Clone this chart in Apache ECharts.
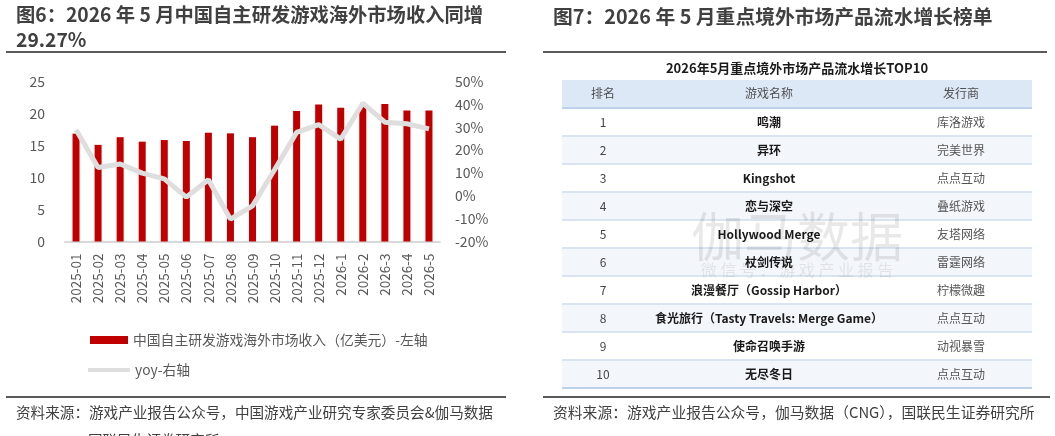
<!DOCTYPE html>
<html>
<head>
<meta charset="utf-8">
<script src="https://cdn.jsdelivr.net/npm/echarts@6/dist/echarts.min.js"></script>
<style>
  html, body { margin: 0; padding: 0; background: #fff; }
  #chart { width: 1055px; height: 436px; }
</style>
</head>
<body>
<div id="chart"></div>
<script>
const months = ['2025-01', '2025-02', '2025-03', '2025-04', '2025-05', '2025-06', '2025-07', '2025-08', '2025-09',
  '2025-10', '2025-11', '2025-12', '2026-1', '2026-2', '2026-3', '2026-4', '2026-5']
const revenue = [16.85, 15.1, 16.3, 15.6, 15.85, 15.7, 17.0, 16.9, 16.3, 18.1, 20.4, 21.4, 20.9, 21.1, 21.5, 20.45, 20.45]
const yoy = [28.9, 12.4, 13.9, 9.9, 7.4, -0.6, 7.0, -10.2, -4.4, 11.4, 27.7, 31.1, 24.8, 40.5, 32.2, 31.5, 29.27]

const ranks = ['1', '2', '3', '4', '5', '6', '7', '8', '9', '10']
const gameNames = ['鸣潮', '异环', 'Kingshot', '恋与深空', 'Hollywood Merge', '杖剑传说', '浪漫餐厅（Gossip Harbor）',
  '食光旅行（Tasty Travels: Merge Game）', '使命召唤手游', '无尽冬日']
const publishers = ['库洛游戏', '完美世界', '点点互动', '叠纸游戏', '友塔网络', '雷霆网络', '柠檬微趣', '点点互动', '动视暴雪', '点点互动']
const tableHeader = ['排名', '游戏名称', '发行商']

const FONT = '"Noto Sans CJK SC", "Noto Sans", sans-serif'
const barName = '中国自主研发游戏海外市场收入（亿美元）-左轴'
const lineName = 'yoy-右轴'

// table geometry
const tLeft = 562
const tRight = 1032
const headTop = 80
const headH = 27
const rowH = 28
const colX = [603, 769, 961]

function buildTable() {
  const els = []
  els.push({ type: 'text', style: { text: '2026年5月重点境外市场产品流水增长TOP10',
    x: 797, y: 68, align: 'center', verticalAlign: 'middle', font: 'bold 13px ' + FONT, fill: '#1a1a1a' } })
  els.push({ type: 'rect', shape: { x: tLeft, y: headTop, width: tRight - tLeft, height: headH }, style: { fill: '#dce8f6' } })
  tableHeader.forEach((h, i) => {
    els.push({ type: 'text', style: { text: h, x: colX[i], y: headTop + headH / 2, align: 'center', verticalAlign: 'middle',
      font: '12px ' + FONT, fill: '#505050' } })
  })
  const top0 = headTop + headH + 1
  ranks.forEach((r, i) => {
    const y = top0 + i * rowH
    if (i % 2 === 1) {
      els.push({ type: 'rect', shape: { x: tLeft, y: y, width: tRight - tLeft, height: rowH }, style: { fill: '#f3f6fb' } })
    }
    const cy = y + rowH / 2
    els.push({ type: 'text', style: { text: r, x: colX[0], y: cy, align: 'center', verticalAlign: 'middle',
      font: '12px ' + FONT, fill: '#444' } })
    els.push({ type: 'text', style: { text: gameNames[i], x: colX[1], y: cy, align: 'center', verticalAlign: 'middle',
      font: 'bold 12px ' + FONT, fill: '#1a1a1a' } })
    els.push({ type: 'text', style: { text: publishers[i], x: colX[2], y: cy, align: 'center', verticalAlign: 'middle',
      font: '12px ' + FONT, fill: '#555' } })
  })
  for (let i = 0; i <= ranks.length; i++) {
    const y = top0 + i * rowH
    els.push({ type: 'line', shape: { x1: tLeft, y1: y, x2: tRight, y2: y },
      style: { stroke: i === 0 || i === ranks.length ? '#a9c3e4' : '#cfdcee', lineWidth: 1.5 } })
  }
  // watermark
  els.push({ type: 'text', z: 10, style: { text: '伽马数据', x: 797, y: 237, align: 'center', verticalAlign: 'middle',
    font: '53px ' + FONT, fill: 'rgba(0,0,0,0.09)' } })
  els.push({ type: 'text', z: 10, style: { text: '微 信 号 ： 游 戏 产 业 报 告', x: 797, y: 270, align: 'center', verticalAlign: 'middle',
    font: '16px ' + FONT, fill: 'rgba(0,0,0,0.08)' } })
  return els
}

function hLine(x1, x2, y) {
  return { type: 'line', shape: { x1: x1, y1: y, x2: x2, y2: y }, style: { stroke: '#595959', lineWidth: 2 } }
}

function txt(text, x, y, font, fill) {
  return { type: 'text', style: { text: text, x: x, y: y, verticalAlign: 'middle', font: font, fill: fill } }
}

const chart = echarts.init(document.getElementById('chart'))

chart.setOption({
  animation: false,
  textStyle: { fontFamily: FONT },
  grid: { left: 65, right: 615, top: 81.5, bottom: 194.5 },
  legend: [
    {
      data: [{ name: barName, icon: 'rect' }],
      left: 85, top: 328, itemWidth: 38, itemHeight: 8,
      textStyle: { fontSize: 13.8, color: '#595959' }
    },
    {
      data: [{ name: lineName, icon: 'rect' }],
      left: 83, top: 358, itemWidth: 42, itemHeight: 4,
      textStyle: { fontSize: 13.8, color: '#595959' }
    }
  ],
  xAxis: {
    type: 'category',
    data: months,
    axisLine: { lineStyle: { color: '#d9d9d9', width: 2 } },
    axisTick: { show: false },
    axisLabel: { rotate: 90, fontSize: 13.5, color: '#595959', margin: 12 }
  },
  yAxis: [
    {
      type: 'value', min: 0, max: 25, interval: 5,
      axisLine: { show: false }, axisTick: { show: false }, splitLine: { show: false },
      axisLabel: { fontSize: 14, color: '#595959', margin: 20 }
    },
    {
      type: 'value', min: -20, max: 50, interval: 10,
      axisLine: { show: false }, axisTick: { show: false }, splitLine: { show: false },
      axisLabel: { fontSize: 14, color: '#595959', margin: 15, formatter: '{value}%' }
    }
  ],
  series: [
    {
      name: barName,
      type: 'bar',
      data: revenue,
      barWidth: 7,
      itemStyle: { color: '#c00000' }
    },
    {
      name: lineName,
      type: 'line',
      yAxisIndex: 1,
      data: yoy,
      symbol: 'none',
      z: 3,
      itemStyle: { color: '#dedede' },
      lineStyle: { color: '#dedede', width: 5 }
    }
  ],
  graphic: [
    txt('图6：2026 年 5 月中国自主研发游戏海外市场收入同增', 16, 15, 'bold 19.3px ' + FONT, '#404040'),
    txt('29.27%', 16, 40, 'bold 19.3px ' + FONT, '#404040'),
    hLine(6, 506, 52),
    txt('图7：2026 年 5 月重点境外市场产品流水增长榜单', 553, 16, 'bold 19.8px ' + FONT, '#404040'),
    hLine(543, 1047, 52),
    hLine(6, 506, 397),
    hLine(543, 1050, 397),
    txt('资料来源：游戏产业报告公众号，中国游戏产业研究专家委员会&伽马数据', 16, 412, '14.6px ' + FONT, '#404040'),
    txt('国联民生证券研究所', 88, 440, '14.6px ' + FONT, '#404040'),
    txt('资料来源：游戏产业报告公众号，伽马数据（CNG），国联民生证券研究所', 553, 412, '14.8px ' + FONT, '#404040')
  ].concat(buildTable())
})
</script>
</body>
</html>
